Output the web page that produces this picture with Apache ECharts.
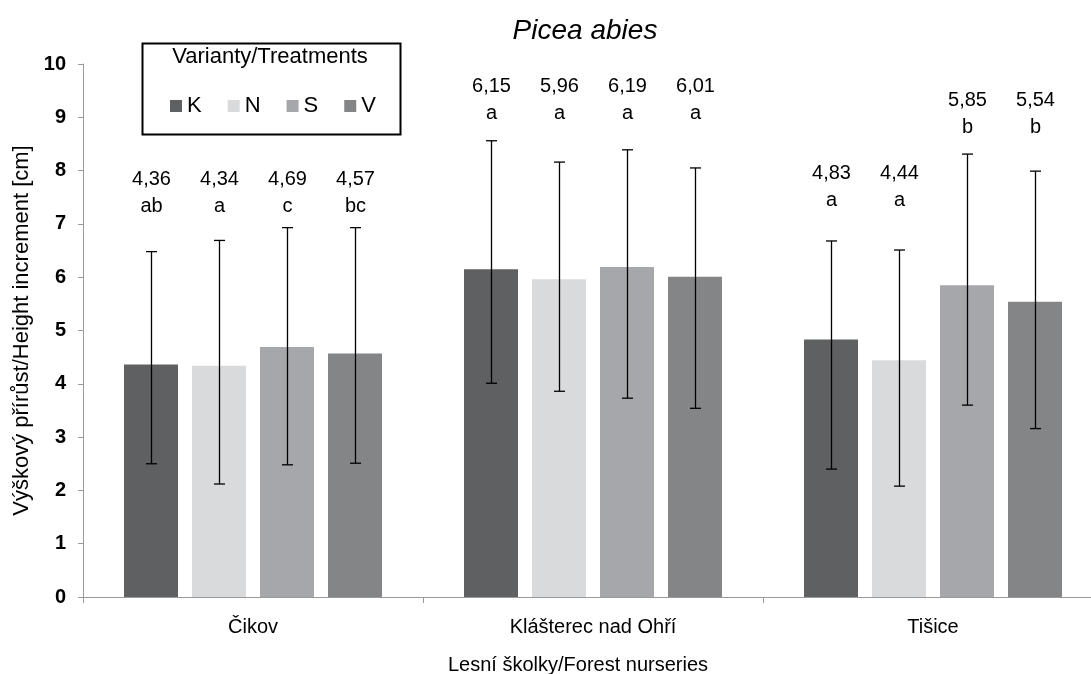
<!DOCTYPE html>
<html><head><meta charset="utf-8">
<script src="https://cdn.jsdelivr.net/npm/echarts@6/dist/echarts.min.js"></script>
<style>html,body{margin:0;padding:0;background:#fff}#c{width:1091px;height:674px}</style>
</head><body><div id="c"></div>
<script>
// ---- data ----
const categories = ['Čikov', 'Klášterec nad Ohří', 'Tišice'];
const seriesNames = ['K', 'N', 'S', 'V'];
const means = {
  K: [4.36, 6.15, 4.83],
  N: [4.34, 5.96, 4.44],
  S: [4.69, 6.19, 5.85],
  V: [4.57, 6.01, 5.54]
};
const errLow = {
  K: [2.50, 4.01, 2.40],
  N: [2.12, 3.86, 2.08],
  S: [2.48, 3.73, 3.60],
  V: [2.51, 3.54, 3.16]
};
const errHigh = {
  K: [6.48, 8.56, 6.68],
  N: [6.69, 8.16, 6.51],
  S: [6.93, 8.39, 8.31],
  V: [6.93, 8.05, 7.99]
};
const letters = {
  K: ['ab', 'a', 'a'],
  N: ['a', 'a', 'a'],
  S: ['c', 'a', 'b'],
  V: ['bc', 'a', 'b']
};
const yTicks = [0, 1, 2, 3, 4, 5, 6, 7, 8, 9, 10];

// ---- layout / style (not data) ----
const colors = {K: '#5f6062', N: '#d9dadc', S: '#a6a7aa', V: '#848587'};
const labelLevel = [[7.58, 7.58, 7.58, 7.58], [9.33, 9.33, 9.33, 9.33], [7.69, 7.69, 9.06, 9.06]]; // label centre (axis units)
const BAR_FRAC = 54 / 340, GAP_FRAC = 14 / 54;
const FONT = '"Liberation Sans", Arial, sans-serif';

function fmt(v) { return v.toFixed(2).replace('.', ','); }

const series = [];
seriesNames.forEach((name) => {
  series.push({
    name: name, type: 'bar', data: means[name],
    barWidth: (BAR_FRAC * 100) + '%', barGap: (GAP_FRAC * 100) + '%',
    itemStyle: {color: colors[name]}, z: 2
  });
});
seriesNames.forEach((name, si) => {
  const data = categories.map((c, ci) => [ci, errLow[name][ci], errHigh[name][ci], means[name][ci]]);
  series.push({
    type: 'custom', name: name + '_err', data: data, z: 5, silent: true,
    renderItem: function (params, api) {
      const ci = api.value(0);
      const band = api.size([1, 0])[0];
      const bw = band * BAR_FRAC;
      const off = (si - 1.5) * bw * (1 + GAP_FRAC);
      const lo = api.coord([ci, api.value(1)]);
      const hi = api.coord([ci, api.value(2)]);
      const x = Math.round(lo[0] + off) + 0.5;
      const cap = 5.5;
      const st = {stroke: '#000', lineWidth: 1.3};
      const lab = api.coord([ci, labelLevel[ci][si]]);
      return {
        type: 'group', children: [
          {type: 'line', shape: {x1: x, y1: hi[1], x2: x, y2: lo[1]}, style: st},
          {type: 'line', shape: {x1: x - cap, y1: hi[1], x2: x + cap, y2: hi[1]}, style: st},
          {type: 'line', shape: {x1: x - cap, y1: lo[1], x2: x + cap, y2: lo[1]}, style: st},
          {type: 'text', x: x, y: lab[1], style: {
            text: fmt(api.value(3)) + '\n' + letters[name][ci],
            align: 'center', verticalAlign: 'middle', fill: '#000',
            font: '20px ' + FONT, lineHeight: 27
          }}
        ]
      };
    }
  });
});

const chart = echarts.init(document.getElementById('c'));
chart.setOption({
  backgroundColor: '#fff',
  animation: false,
  title: {
    text: 'Picea abies', left: 580, top: 12, textAlign: 'center',
    textStyle: {fontFamily: FONT, fontStyle: 'italic', fontWeight: 'normal', fontSize: 28, color: '#000'}
  },
  grid: {left: 83, width: 1020, top: 64, bottom: 77, containLabel: false, outerBoundsMode: 'none'},
  legend: {
    data: seriesNames, left: 165, top: 90, icon: 'rect', itemWidth: 12, itemHeight: 12,
    itemGap: 26, textStyle: {fontFamily: FONT, fontSize: 22, color: '#000'}
  },
  graphic: [
    {type: 'rect', left: 140, top: 41, shape: {width: 258, height: 91},
      style: {fill: 'none', stroke: '#000', lineWidth: 2}, z: 10},
    {type: 'text', x: 270, y: 57, style: {text: 'Varianty/Treatments', font: '22px ' + FONT, fill: '#000',
      align: 'center', verticalAlign: 'middle'}, z: 10}
  ],
  xAxis: {
    type: 'category', data: categories,
    axisLine: {lineStyle: {color: '#9a9a9a', width: 1}},
    axisTick: {show: true, length: 6, lineStyle: {color: '#9a9a9a'}},
    axisLabel: {fontFamily: FONT, fontSize: 20, color: '#000', margin: 20},
    name: 'Lesní školky/Forest nurseries', nameLocation: 'middle', nameGap: 58,
    nameTextStyle: {fontFamily: FONT, fontSize: 20, color: '#000', padding: [0, 30, 0, 0]}
  },
  yAxis: {
    type: 'value', min: yTicks[0], max: yTicks[yTicks.length - 1], interval: 1,
    axisLine: {show: true, lineStyle: {color: '#9a9a9a', width: 1}},
    axisTick: {show: true, length: 5, lineStyle: {color: '#9a9a9a'}},
    splitLine: {show: false},
    axisLabel: {fontFamily: FONT, fontSize: 20, fontWeight: 'bold', color: '#000', margin: 17},
    name: 'Výškový přírůst/Height increment [cm]', nameLocation: 'middle', nameGap: 50,
    nameTextStyle: {fontFamily: FONT, fontSize: 22, color: '#000'}
  },
  series: series
});
</script></body></html>
